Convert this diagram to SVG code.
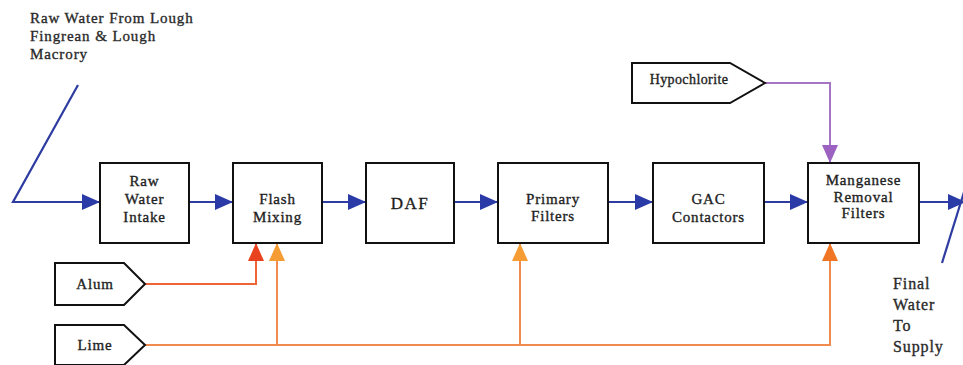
<svg xmlns="http://www.w3.org/2000/svg" width="963" height="365" viewBox="0 0 963 365">
<style>
.box{fill:#fff;stroke:#111;stroke-width:2}
.t{font-family:"Liberation Serif","Times New Roman",serif;font-size:15px;fill:#1e1e1e;stroke:#1e1e1e;stroke-width:0.35px;text-anchor:middle;letter-spacing:0.8px}
.tl{font-family:"Liberation Serif","Times New Roman",serif;font-size:15px;fill:#2a2a2a;stroke:#2a2a2a;stroke-width:0.35px;letter-spacing:0.9px}
.blue{fill:none;stroke:#2e3ca2;stroke-width:2.2}
.alum{fill:none;stroke:#ee6437;stroke-width:2}
.lime{fill:none;stroke:#f08a4e;stroke-width:2}
.purp{fill:none;stroke:#a574c4;stroke-width:2}
</style>
<defs>
<marker id="ab" viewBox="0 0 18 16" refX="18" refY="8" markerWidth="18" markerHeight="16" markerUnits="userSpaceOnUse" orient="auto"><path d="M0,0L18,8L0,16Z" fill="#2a3aa6"/></marker>
<marker id="ar" viewBox="0 0 18 16" refX="18" refY="8" markerWidth="18" markerHeight="16" markerUnits="userSpaceOnUse" orient="auto"><path d="M0,0L18,8L0,16Z" fill="#e8421f"/></marker>
<marker id="ao" viewBox="0 0 18 16" refX="18" refY="8" markerWidth="18" markerHeight="16" markerUnits="userSpaceOnUse" orient="auto"><path d="M0,0L18,8L0,16Z" fill="#f59c35"/></marker>
<marker id="ao2" viewBox="0 0 18 16" refX="18" refY="8" markerWidth="18" markerHeight="16" markerUnits="userSpaceOnUse" orient="auto"><path d="M0,0L18,8L0,16Z" fill="#f07625"/></marker>
<marker id="ap" viewBox="0 0 18 16" refX="18" refY="8" markerWidth="18" markerHeight="16" markerUnits="userSpaceOnUse" orient="auto"><path d="M0,0L18,8L0,16Z" fill="#9c62c2"/></marker>
</defs>
<rect width="963" height="365" fill="#fff"/>

<g id="connectors">
<polyline class="blue" points="78,85 13,202 100,202" marker-end="url(#ab)"/>
<line class="blue" x1="189" y1="202" x2="233" y2="202" marker-end="url(#ab)"/>
<line class="blue" x1="322" y1="202" x2="366" y2="202" marker-end="url(#ab)"/>
<line class="blue" x1="454" y1="202" x2="498" y2="202" marker-end="url(#ab)"/>
<line class="blue" x1="608" y1="202" x2="653" y2="202" marker-end="url(#ab)"/>
<line class="blue" x1="764" y1="202" x2="808" y2="202" marker-end="url(#ab)"/>
<line class="blue" x1="919" y1="202" x2="966" y2="202" marker-end="url(#ab)"/>
<line class="blue" x1="964" y1="192" x2="942" y2="263"/>
<polyline class="purp" points="765,83 830,83 830,163" marker-end="url(#ap)"/>
<polyline class="alum" points="145,284 256,284 256,243" marker-end="url(#ar)"/>
<polyline class="lime" points="145,345 830,345 830,243" marker-end="url(#ao2)"/>
<line class="lime" x1="277" y1="345" x2="277" y2="243" marker-end="url(#ao)"/>
<line class="lime" x1="520" y1="345" x2="520" y2="243" marker-end="url(#ao)"/>
</g>

<g id="source-label">
<text class="tl" x="30" y="23">Raw Water From Lough</text>
<text class="tl" x="30" y="41">Fingrean &amp; Lough</text>
<text class="tl" x="30" y="59">Macrory</text>
</g>

<g id="raw-water-intake">
<rect class="box" x="100" y="163" width="89" height="80"/>
<text class="t" x="144.5" y="186">Raw</text>
<text class="t" x="144.5" y="204">Water</text>
<text class="t" x="144.5" y="222">Intake</text>
</g>

<g id="flash-mixing">
<rect class="box" x="233" y="163" width="89" height="80"/>
<text class="t" x="277.5" y="204">Flash</text>
<text class="t" x="277.5" y="222">Mixing</text>
</g>

<g id="daf">
<rect class="box" x="366" y="163" width="88" height="80"/>
<text class="t" x="410" y="209" style="font-size:17px;letter-spacing:1.5px">DAF</text>
</g>

<g id="primary-filters">
<rect class="box" x="498" y="163" width="110" height="80"/>
<text class="t" x="553" y="204">Primary</text>
<text class="t" x="553" y="221">Filters</text>
</g>

<g id="gac-contactors">
<rect class="box" x="653" y="163" width="111" height="80"/>
<text class="t" x="708.5" y="204">GAC</text>
<text class="t" x="708.5" y="222">Contactors</text>
</g>

<g id="manganese-removal-filters">
<rect class="box" x="808" y="163" width="111" height="80"/>
<text class="t" x="863.5" y="185">Manganese</text>
<text class="t" x="863.5" y="202">Removal</text>
<text class="t" x="863.5" y="218">Filters</text>
</g>

<g id="hypochlorite">
<polygon class="box" points="632,63 730,63 765,83 730,103 632,103"/>
<text class="t" x="689" y="84" style="font-size:14px;letter-spacing:0.4px">Hypochlorite</text>
</g>

<g id="alum">
<polygon class="box" points="55,263 124,263 145,284 124,305 55,305"/>
<text class="t" x="95" y="289">Alum</text>
</g>

<g id="lime">
<polygon class="box" points="55,325 124,325 145,345 124,365 55,365"/>
<text class="t" x="95" y="350">Lime</text>
</g>

<g id="final-label">
<text class="tl" x="893" y="289" style="font-size:16px">Final</text>
<text class="tl" x="893" y="310" style="font-size:16px">Water</text>
<text class="tl" x="893" y="331" style="font-size:16px">To</text>
<text class="tl" x="893" y="352" style="font-size:16px">Supply</text>
</g>
</svg>
